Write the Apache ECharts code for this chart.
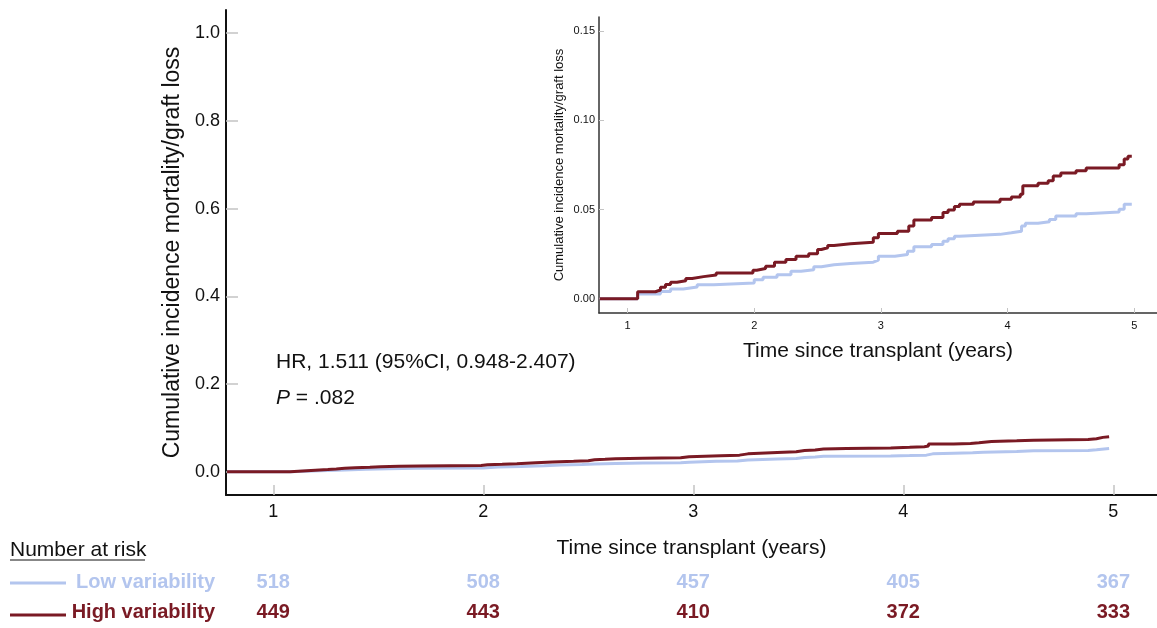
<!DOCTYPE html>
<html>
<head>
<meta charset="utf-8">
<script src="https://cdn.jsdelivr.net/npm/echarts@6/dist/echarts.min.js"></script>
<style>
html,body{margin:0;padding:0;background:#fff;}
#chart{width:1157px;height:628px;}
</style>
</head>
<body>
<div id="chart"></div>
<script>
// ---- Data ----
const highTimes = [0.78,1.08,1.22,1.26,1.30,1.34,1.39,1.46,1.51,1.60,1.70,1.99,2.02,2.09,2.16,2.25,2.33,2.43,2.50,2.53,2.58,2.63,2.76,2.94,2.98,3.13,3.22,3.26,3.40,3.49,3.53,3.58,3.62,3.73,3.94,4.03,4.10,4.12,4.24,4.32,4.36,4.42,4.54,4.62,4.88,4.92,4.95,4.98];
const highValues = [0,0.0039,0.0049,0.0064,0.0080,0.0092,0.0101,0.0113,0.0124,0.0133,0.0145,0.0160,0.0169,0.0182,0.0205,0.0220,0.0238,0.0252,0.0276,0.0286,0.0299,0.0308,0.0317,0.0342,0.0366,0.0379,0.0408,0.0441,0.0455,0.0483,0.0498,0.0517,0.0530,0.0543,0.0558,0.0571,0.0586,0.0633,0.0647,0.0661,0.0689,0.0705,0.0718,0.0733,0.0751,0.0784,0.0799,0.0799];
const lowTimes = [0.78,1.08,1.26,1.34,1.44,1.55,1.68,2.00,2.07,2.18,2.29,2.37,2.47,2.53,2.63,2.76,2.94,2.98,3.11,3.21,3.26,3.40,3.49,3.53,3.58,3.62,3.94,4.03,4.11,4.14,4.24,4.33,4.38,4.54,4.62,4.88,4.92,4.98];
const lowValues = [0,0.0026,0.0041,0.0055,0.0066,0.0079,0.0088,0.0107,0.0120,0.0135,0.0154,0.0163,0.0179,0.0190,0.0197,0.0205,0.0216,0.0238,0.0248,0.0267,0.0291,0.0304,0.0323,0.0336,0.0351,0.0361,0.0370,0.0379,0.0408,0.0423,0.0432,0.0445,0.0464,0.0477,0.0486,0.0502,0.0530,0.0530];

const riskTimes = [1,2,3,4,5];
const lowRisk = [518,508,457,405,367];
const highRisk = [449,443,410,372,333];

const groupNames = ['High variability','Low variability'];
const mainYTicks = [0,0.2,0.4,0.6,0.8,1.0];
const insetYTicks = [0,0.05,0.10,0.15];
const xTicks = [1,2,3,4,5];

// ---- Styling ----
const RED = '#7a1a24';
const BLUE = '#b3c5ee';
const FONT = 'Liberation Sans, Arial, Helvetica, sans-serif';

const pairs = (xs, ys) => xs.map((x, i) => [x, ys[i]]);

const chart = echarts.init(document.getElementById('chart'));

function xAxisCfg(gridIndex, max, opts) {
  return Object.assign({
    type: 'value', gridIndex, min: 0.775, max,
    axisLine: {show: true, onZero: false, lineStyle: {color: '#111', width: 2}},
    axisTick: {show: true, inside: true, length: 10, customValues: xTicks, lineStyle: {color: '#c4c4c4', width: 1.5}},
    axisLabel: {show: true, customValues: xTicks, fontFamily: FONT, fontSize: 18, color: '#111', margin: 8},
    splitLine: {show: false},
    nameLocation: 'middle',
    nameTextStyle: {fontFamily: FONT, fontSize: 21, color: '#111'}
  }, opts || {});
}

function riskLabel(color) {
  return {show: true, position: 'inside', formatter: p => String(p.value[2]), fontFamily: FONT, fontSize: 20,
    fontWeight: 'bold', color, opacity: 1, textBorderWidth: 0};
}

const option = {
  backgroundColor: '#fff',
  animation: false,
  grid: [
    {left: 226, top: 10, width: 931, height: 485},
    {left: 599, top: 17, width: 558, height: 296},
    {left: 226, top: 567, width: 931, height: 64}
  ],
  xAxis: [
    xAxisCfg(0, 5.208, {name: 'Time since transplant (years)', nameGap: 43}),
    xAxisCfg(1, 5.179, {
      name: 'Time since transplant (years)', nameGap: 28,
      axisLine: {show: true, onZero: false, lineStyle: {color: '#333', width: 1.5}},
      axisTick: {show: true, inside: true, length: 5, customValues: xTicks, lineStyle: {color: '#c4c4c4', width: 1}},
      axisLabel: {show: true, customValues: xTicks, fontFamily: FONT, fontSize: 11, color: '#111', margin: 7}
    }),
    {type: 'value', gridIndex: 2, min: 0.775, max: 5.208, show: false}
  ],
  yAxis: [
    {
      type: 'value', gridIndex: 0, min: -0.053, max: 1.053,
      axisLine: {show: true, lineStyle: {color: '#111', width: 2}},
      axisTick: {show: true, inside: true, length: 12, customValues: mainYTicks, lineStyle: {color: '#c4c4c4', width: 1.5}},
      axisLabel: {show: true, customValues: mainYTicks, formatter: v => v.toFixed(1), fontFamily: FONT, fontSize: 18, color: '#111', margin: 6},
      splitLine: {show: false},
      name: 'Cumulative incidence mortality/graft loss', nameLocation: 'middle', nameGap: 42, nameRotate: 90,
      nameTextStyle: {fontFamily: FONT, fontSize: 23, color: '#111'}
    },
    {
      type: 'value', gridIndex: 1, min: -0.008, max: 0.158,
      axisLine: {show: true, lineStyle: {color: '#333', width: 1.5}},
      axisTick: {show: true, inside: true, length: 5, customValues: insetYTicks, lineStyle: {color: '#c4c4c4', width: 1}},
      axisLabel: {show: true, customValues: insetYTicks, formatter: v => v.toFixed(2), fontFamily: FONT, fontSize: 11, color: '#111', margin: 4},
      splitLine: {show: false},
      name: 'Cumulative incidence mortality/graft loss', nameLocation: 'middle', nameGap: 33, nameRotate: 90,
      nameTextStyle: {fontFamily: FONT, fontSize: 13, color: '#111'}
    },
    {
      type: 'category', gridIndex: 2, data: groupNames,
      axisLine: {show: false}, axisTick: {show: false}, splitLine: {show: false},
      axisLabel: {
        show: true, margin: 11, fontFamily: FONT, fontSize: 20, fontWeight: 'bold',
        color: (v) => v === 'High variability' ? RED : BLUE
      }
    }
  ],
  graphic: [
    {type: 'text', left: 10, top: 540, style: {text: 'Number at risk', font: '21px ' + FONT, fill: '#111'}},
    {type: 'line', shape: {x1: 10, y1: 560, x2: 145, y2: 560}, style: {stroke: '#111', lineWidth: 1.2}},
    {type: 'line', shape: {x1: 10, y1: 583, x2: 66, y2: 583}, style: {stroke: BLUE, lineWidth: 3}},
    {type: 'line', shape: {x1: 10, y1: 615, x2: 66, y2: 615}, style: {stroke: RED, lineWidth: 3}},
    {type: 'text', left: 276, top: 352, style: {text: 'HR, 1.511 (95%CI, 0.948-2.407)', font: '21px ' + FONT, fill: '#111'}},
    {type: 'text', left: 276, top: 388, style: {
      text: '{i|P} = .082', font: '21px ' + FONT, fill: '#111',
      rich: {i: {fontStyle: 'italic', fontFamily: FONT, fontSize: 21, fill: '#111', color: '#111'}}
    }}
  ],
  series: [
    {type: 'line', name: 'Low variability', xAxisIndex: 0, yAxisIndex: 0, step: 'end', showSymbol: false,
      data: pairs(lowTimes, lowValues), lineStyle: {color: BLUE, width: 3}, itemStyle: {color: BLUE}, z: 2},
    {type: 'line', name: 'High variability', xAxisIndex: 0, yAxisIndex: 0, step: 'end', showSymbol: false,
      data: pairs(highTimes, highValues), lineStyle: {color: RED, width: 3}, itemStyle: {color: RED}, z: 3},
    {type: 'line', name: 'Low variability', xAxisIndex: 1, yAxisIndex: 1, step: 'end', showSymbol: false,
      data: pairs(lowTimes, lowValues), lineStyle: {color: BLUE, width: 3}, itemStyle: {color: BLUE}, z: 2},
    {type: 'line', name: 'High variability', xAxisIndex: 1, yAxisIndex: 1, step: 'end', showSymbol: false,
      data: pairs(highTimes, highValues), lineStyle: {color: RED, width: 3}, itemStyle: {color: RED}, z: 3},
    {type: 'scatter', xAxisIndex: 2, yAxisIndex: 2, symbolSize: 0, itemStyle: {opacity: 1, color: BLUE},
      data: riskTimes.map((t, i) => [t, 'Low variability', lowRisk[i]]),
      label: riskLabel(BLUE)},
    {type: 'scatter', xAxisIndex: 2, yAxisIndex: 2, symbolSize: 0, itemStyle: {opacity: 1, color: RED},
      data: riskTimes.map((t, i) => [t, 'High variability', highRisk[i]]),
      label: riskLabel(RED)}
  ]
};
chart.setOption(option);
</script>
</body>
</html>
